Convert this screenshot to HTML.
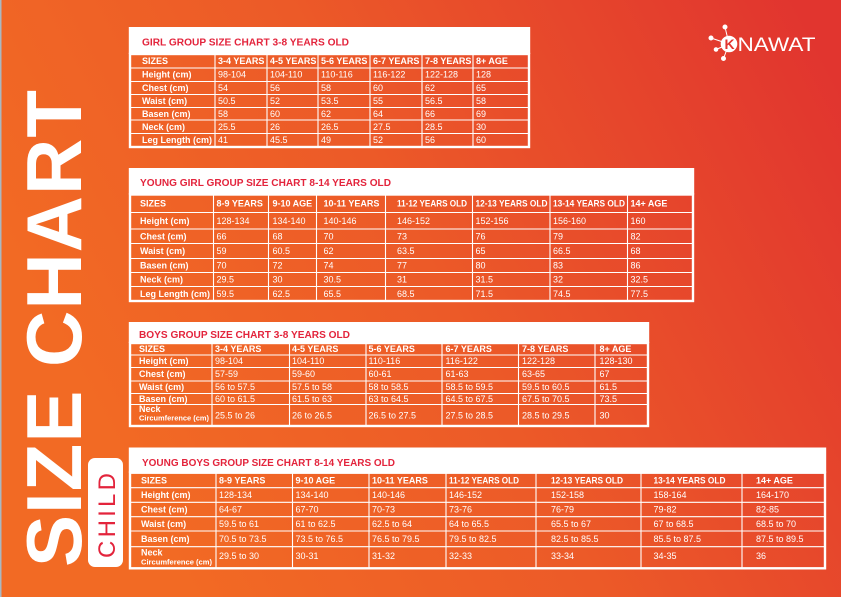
<!DOCTYPE html>
<html><head><meta charset="utf-8"><style>
html,body{margin:0;padding:0;width:841px;height:597px;overflow:hidden;}
svg{display:block}
.t{font-family:"Liberation Sans",sans-serif;font-weight:bold;font-size:10px;fill:#e3243c}
.h{font-family:"Liberation Sans",sans-serif;font-weight:bold;font-size:9px;fill:#fff}
.v{font-family:"Liberation Sans",sans-serif;font-size:9px;fill:#fff}
.c{font-family:"Liberation Sans",sans-serif;font-weight:bold;font-size:7.3px;fill:#fff}
.g{stroke:#fff;stroke-width:1.1;fill:none}
.o{stroke:#fff;stroke-width:2.4;fill:none}
</style></head><body>
<svg width="841" height="597" viewBox="0 0 841 597" xmlns="http://www.w3.org/2000/svg">
<defs>
<linearGradient id="bg" gradientUnits="userSpaceOnUse" x1="120" y1="470" x2="841" y2="90">
<stop offset="0" stop-color="#f26a24"/>
<stop offset="0.45" stop-color="#ec5a28"/>
<stop offset="1" stop-color="#e1352f"/>
</linearGradient>
</defs>
<rect width="841" height="597" fill="url(#bg)"/>
<rect x="0" y="0" width="1.5" height="597" fill="#aab8c2"/>

<!-- Big vertical title -->
<text transform="translate(81,567) rotate(-90)" textLength="477" lengthAdjust="spacing" style="font-family:'Liberation Sans',sans-serif;font-weight:bold;font-size:78px;fill:#fff">SIZE CHART</text>
<rect x="88" y="458" width="35" height="109" rx="7" fill="#fff"/>
<text transform="translate(115,558) rotate(-90)" textLength="85" lengthAdjust="spacing" style="font-family:'Liberation Sans',sans-serif;font-size:24px;fill:#e3243c">CHILD</text>

<!-- Logo -->
<g stroke="#fff" stroke-width="1" fill="#fff">
<line x1="729" y1="44" x2="725" y2="27"/>
<line x1="729" y1="44" x2="711" y2="38"/>
<line x1="729" y1="44" x2="716" y2="49.5"/>
<line x1="729" y1="44" x2="723.5" y2="58.5"/>
<circle cx="725" cy="27" r="2"/>
<circle cx="711" cy="38" r="2"/>
<circle cx="716" cy="49.5" r="1.8"/>
<circle cx="723.5" cy="58.5" r="2"/>
<circle cx="729" cy="44" r="7.8"/>
</g>
<text x="729.5" y="49" text-anchor="middle" style="font-family:'Liberation Sans',sans-serif;font-weight:bold;font-size:14px;fill:#e2352f">K</text>
<text x="737.5" y="51" textLength="78" lengthAdjust="spacingAndGlyphs" style="font-family:'Liberation Sans',sans-serif;font-size:19px;fill:#fff">NAWAT</text>

<!-- TABLE 1 -->
<rect x="128.8" y="27" width="401.4" height="27" fill="#fff"/>
<text class="t" x="142" y="45.5" textLength="207" lengthAdjust="spacingAndGlyphs">GIRL GROUP SIZE CHART 3-8 YEARS OLD</text>
<rect class="o" x="130" y="54" width="399" height="93"/>
<path class="g" d="M130 68H529M130 81.5H529M130 94.5H529M130 107.5H529M130 120H529M130 133.5H529M215 54V147M267 54V147M318 54V147M370 54V147M422 54V147M473 54V147"/>
<g class="h"><text x="142" y="64">SIZES</text><text x="218" y="64">3-4 YEARS</text><text x="270" y="64">4-5 YEARS</text><text x="321" y="64">5-6 YEARS</text><text x="373" y="64">6-7 YEARS</text><text x="425" y="64">7-8 YEARS</text><text x="476" y="64">8+ AGE</text>
<text x="142" y="77.5">Height (cm)</text><text x="142" y="91">Chest (cm)</text><text x="142" y="103.8">Waist (cm)</text><text x="142" y="116.8">Basen (cm)</text><text x="142" y="129.8">Neck (cm)</text><text x="142" y="143">Leg Length (cm)</text></g>
<g class="v">
<text x="218" y="77.5">98-104</text><text x="270" y="77.5">104-110</text><text x="321" y="77.5">110-116</text><text x="373" y="77.5">116-122</text><text x="425" y="77.5">122-128</text><text x="476" y="77.5">128</text>
<text x="218" y="91">54</text><text x="270" y="91">56</text><text x="321" y="91">58</text><text x="373" y="91">60</text><text x="425" y="91">62</text><text x="476" y="91">65</text>
<text x="218" y="103.8">50.5</text><text x="270" y="103.8">52</text><text x="321" y="103.8">53.5</text><text x="373" y="103.8">55</text><text x="425" y="103.8">56.5</text><text x="476" y="103.8">58</text>
<text x="218" y="116.8">58</text><text x="270" y="116.8">60</text><text x="321" y="116.8">62</text><text x="373" y="116.8">64</text><text x="425" y="116.8">66</text><text x="476" y="116.8">69</text>
<text x="218" y="129.8">25.5</text><text x="270" y="129.8">26</text><text x="321" y="129.8">26.5</text><text x="373" y="129.8">27.5</text><text x="425" y="129.8">28.5</text><text x="476" y="129.8">30</text>
<text x="218" y="143">41</text><text x="270" y="143">45.5</text><text x="321" y="143">49</text><text x="373" y="143">52</text><text x="425" y="143">56</text><text x="476" y="143">60</text>
</g>

<!-- TABLE 2 -->
<rect x="128.8" y="168" width="565.4" height="26.5" fill="#fff"/>
<text class="t" x="140" y="186" textLength="251" lengthAdjust="spacingAndGlyphs">YOUNG GIRL GROUP SIZE CHART 8-14 YEARS OLD</text>
<rect class="o" x="130" y="194.5" width="563" height="106.5"/>
<path class="g" d="M130 212.5H693M130 229H693M130 243.5H693M130 258.5H693M130 272.5H693M130 286.5H693M213.5 194.5V301M268.5 194.5V301M316.5 194.5V301M385.5 194.5V301M472.5 194.5V301M550 194.5V301M627.5 194.5V301"/>
<g class="h"><text x="140" y="206.7">SIZES</text><text x="216.5" y="206.7">8-9 YEARS</text><text x="272.5" y="206.7">9-10 AGE</text><text x="323.5" y="206.7">10-11 YEARS</text><text x="397" y="206.7" textLength="70" lengthAdjust="spacingAndGlyphs">11-12 YEARS OLD</text><text x="475.5" y="206.7" textLength="72" lengthAdjust="spacingAndGlyphs">12-13 YEARS OLD</text><text x="553" y="206.7" textLength="72" lengthAdjust="spacingAndGlyphs">13-14 YEARS OLD</text><text x="630.5" y="206.7">14+ AGE</text>
<text x="140" y="224">Height (cm)</text><text x="140" y="239.5">Chest (cm)</text><text x="140" y="254.2">Waist (cm)</text><text x="140" y="268.7">Basen (cm)</text><text x="140" y="282.7">Neck (cm)</text><text x="140" y="297">Leg Length (cm)</text></g>
<g class="v">
<text x="216.5" y="224">128-134</text><text x="272.5" y="224">134-140</text><text x="323.5" y="224">140-146</text><text x="397" y="224">146-152</text><text x="475.5" y="224">152-156</text><text x="553" y="224">156-160</text><text x="630.5" y="224">160</text>
<text x="216.5" y="239.5">66</text><text x="272.5" y="239.5">68</text><text x="323.5" y="239.5">70</text><text x="397" y="239.5">73</text><text x="475.5" y="239.5">76</text><text x="553" y="239.5">79</text><text x="630.5" y="239.5">82</text>
<text x="216.5" y="254.2">59</text><text x="272.5" y="254.2">60.5</text><text x="323.5" y="254.2">62</text><text x="397" y="254.2">63.5</text><text x="475.5" y="254.2">65</text><text x="553" y="254.2">66.5</text><text x="630.5" y="254.2">68</text>
<text x="216.5" y="268.7">70</text><text x="272.5" y="268.7">72</text><text x="323.5" y="268.7">74</text><text x="397" y="268.7">77</text><text x="475.5" y="268.7">80</text><text x="553" y="268.7">83</text><text x="630.5" y="268.7">86</text>
<text x="216.5" y="282.7">29.5</text><text x="272.5" y="282.7">30</text><text x="323.5" y="282.7">30.5</text><text x="397" y="282.7">31</text><text x="475.5" y="282.7">31.5</text><text x="553" y="282.7">32</text><text x="630.5" y="282.7">32.5</text>
<text x="216.5" y="297">59.5</text><text x="272.5" y="297">62.5</text><text x="323.5" y="297">65.5</text><text x="397" y="297">68.5</text><text x="475.5" y="297">71.5</text><text x="553" y="297">74.5</text><text x="630.5" y="297">77.5</text>
</g>

<!-- TABLE 3 -->
<rect x="128.8" y="322" width="520.4" height="21" fill="#fff"/>
<text class="t" x="139" y="338" textLength="211" lengthAdjust="spacingAndGlyphs">BOYS GROUP SIZE CHART 3-8 YEARS OLD</text>
<rect class="o" x="130" y="343" width="518" height="83"/>
<path class="g" d="M130 355H648M130 367.5H648M130 381H648M130 393.5H648M130 404.5H648M212 343V426M289.5 343V426M366 343V426M442 343V426M518.5 343V426M595 343V426"/>
<g class="h"><text x="139" y="352.2">SIZES</text><text x="215" y="352.2">3-4 YEARS</text><text x="292" y="352.2">4-5 YEARS</text><text x="368.5" y="352.2">5-6 YEARS</text><text x="445.5" y="352.2">6-7 YEARS</text><text x="522" y="352.2">7-8 YEARS</text><text x="599.5" y="352.2">8+ AGE</text>
<text x="139" y="364.2">Height (cm)</text><text x="139" y="377.2">Chest (cm)</text><text x="139" y="390.2">Waist (cm)</text><text x="139" y="402.2">Basen (cm)</text><text x="139" y="412">Neck</text></g>
<text class="c" x="139" y="420.6" textLength="70" lengthAdjust="spacingAndGlyphs">Circumference (cm)</text>
<g class="v">
<text x="215" y="364.2">98-104</text><text x="292" y="364.2">104-110</text><text x="368.5" y="364.2">110-116</text><text x="445.5" y="364.2">116-122</text><text x="522" y="364.2">122-128</text><text x="599.5" y="364.2">128-130</text>
<text x="215" y="377.2">57-59</text><text x="292" y="377.2">59-60</text><text x="368.5" y="377.2">60-61</text><text x="445.5" y="377.2">61-63</text><text x="522" y="377.2">63-65</text><text x="599.5" y="377.2">67</text>
<text x="215" y="390.2">56 to 57.5</text><text x="292" y="390.2">57.5 to 58</text><text x="368.5" y="390.2">58 to 58.5</text><text x="445.5" y="390.2">58.5 to 59.5</text><text x="522" y="390.2">59.5 to 60.5</text><text x="599.5" y="390.2">61.5</text>
<text x="215" y="402.2">60 to 61.5</text><text x="292" y="402.2">61.5 to 63</text><text x="368.5" y="402.2">63 to 64.5</text><text x="445.5" y="402.2">64.5 to 67.5</text><text x="522" y="402.2">67.5 to 70.5</text><text x="599.5" y="402.2">73.5</text>
<text x="215" y="418.7">25.5 to 26</text><text x="292" y="418.7">26 to 26.5</text><text x="368.5" y="418.7">26.5 to 27.5</text><text x="445.5" y="418.7">27.5 to 28.5</text><text x="522" y="418.7">28.5 to 29.5</text><text x="599.5" y="418.7">30</text>
</g>

<!-- TABLE 4 -->
<rect x="128.8" y="447.5" width="697.4" height="25.2" fill="#fff"/>
<text class="t" x="142" y="466" textLength="253" lengthAdjust="spacingAndGlyphs">YOUNG BOYS GROUP SIZE CHART 8-14 YEARS OLD</text>
<rect class="o" x="130" y="472.7" width="695" height="95.6"/>
<path class="g" d="M130 487.7H825M130 502.3H825M130 516.7H825M130 531H825M130 546.7H825M216 472.7V568.3M292.5 472.7V568.3M369 472.7V568.3M446 472.7V568.3M536 472.7V568.3M641 472.7V568.3M742 472.7V568.3"/>
<g class="h"><text x="141" y="483.4">SIZES</text><text x="219" y="483.4">8-9 YEARS</text><text x="295.5" y="483.4">9-10 AGE</text><text x="372" y="483.4">10-11 YEARS</text><text x="449" y="483.4" textLength="70" lengthAdjust="spacingAndGlyphs">11-12 YEARS OLD</text><text x="551" y="483.4" textLength="72" lengthAdjust="spacingAndGlyphs">12-13 YEARS OLD</text><text x="653.5" y="483.4" textLength="72" lengthAdjust="spacingAndGlyphs">13-14 YEARS OLD</text><text x="756" y="483.4">14+ AGE</text>
<text x="141" y="498.2">Height (cm)</text><text x="141" y="512.7">Chest (cm)</text><text x="141" y="527.2">Waist (cm)</text><text x="141" y="542.2">Basen (cm)</text><text x="141" y="555.5">Neck</text></g>
<text class="c" x="141" y="564.4" textLength="71" lengthAdjust="spacingAndGlyphs">Circumference (cm)</text>
<g class="v">
<text x="219" y="498.2">128-134</text><text x="295.5" y="498.2">134-140</text><text x="372" y="498.2">140-146</text><text x="449" y="498.2">146-152</text><text x="551" y="498.2">152-158</text><text x="653.5" y="498.2">158-164</text><text x="756" y="498.2">164-170</text>
<text x="219" y="512.7">64-67</text><text x="295.5" y="512.7">67-70</text><text x="372" y="512.7">70-73</text><text x="449" y="512.7">73-76</text><text x="551" y="512.7">76-79</text><text x="653.5" y="512.7">79-82</text><text x="756" y="512.7">82-85</text>
<text x="219" y="527.2">59.5 to 61</text><text x="295.5" y="527.2">61 to 62.5</text><text x="372" y="527.2">62.5 to 64</text><text x="449" y="527.2">64 to 65.5</text><text x="551" y="527.2">65.5 to 67</text><text x="653.5" y="527.2">67 to 68.5</text><text x="756" y="527.2">68.5 to 70</text>
<text x="219" y="542.2">70.5 to 73.5</text><text x="295.5" y="542.2">73.5 to 76.5</text><text x="372" y="542.2">76.5 to 79.5</text><text x="449" y="542.2">79.5 to 82.5</text><text x="551" y="542.2">82.5 to 85.5</text><text x="653.5" y="542.2">85.5 to 87.5</text><text x="756" y="542.2">87.5 to 89.5</text>
<text x="219" y="559">29.5 to 30</text><text x="295.5" y="559">30-31</text><text x="372" y="559">31-32</text><text x="449" y="559">32-33</text><text x="551" y="559">33-34</text><text x="653.5" y="559">34-35</text><text x="756" y="559">36</text>
</g>
</svg>
</body></html>
